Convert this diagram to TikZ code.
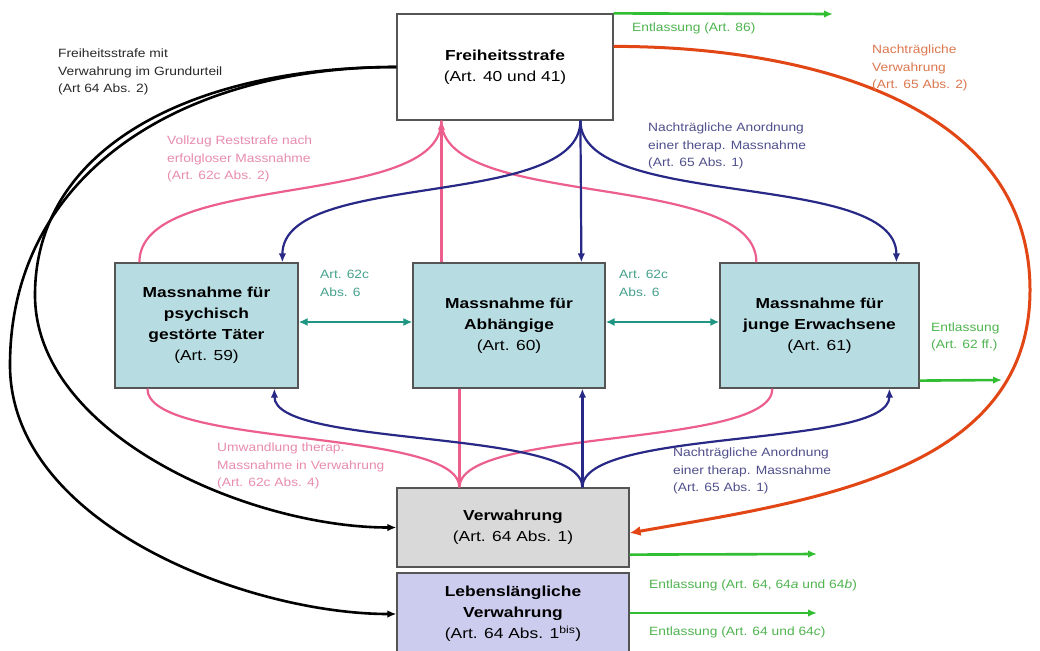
\documentclass[tikz,border=0pt]{standalone}
\usepackage{fontspec}
\setmainfont{Liberation Sans}
\newfontfamily\boxfont{Liberation Sans}[FakeStretch=1.2]
\newfontfamily\labfont{Liberation Sans}[FakeStretch=1.15]
\usetikzlibrary{arrows.meta}
\definecolor{boxline}{RGB}{85,85,85}
\definecolor{cyanfill}{RGB}{183,221,226}
\definecolor{grayfill}{RGB}{217,217,217}
\definecolor{lavfill}{RGB}{204,204,238}
\definecolor{pinkline}{RGB}{236,95,140}
\definecolor{pinktext}{RGB}{232,140,175}
\definecolor{navyline}{RGB}{40,40,135}
\definecolor{navytext}{RGB}{80,80,140}
\definecolor{tealline}{RGB}{30,150,130}
\definecolor{tealtext}{RGB}{70,160,140}
\definecolor{greenline}{RGB}{50,190,50}
\definecolor{greentext}{RGB}{80,180,80}
\definecolor{redline}{RGB}{225,70,20}
\definecolor{redtext}{RGB}{220,120,80}
\definecolor{blacktext}{RGB}{40,40,40}
\tikzset{
  box/.style={draw=boxline, line width=1.2pt, inner sep=0pt, align=center,
    font=\boxfont\fontsize{14.5}{21}\selectfont},
  lab/.style={anchor=west, inner sep=0pt, align=left,
    font=\labfont\fontsize{12}{17.5}\selectfont},
  tip/.style={-{Latex[length=9pt,width=7.5pt]}},
  pinkarr/.style={draw=pinkline, line width=2.2pt},
  navyarr/.style={draw=navyline, line width=2.2pt},
  greenarr/.style={draw=greenline, line width=2.6pt, tip},
  tealarr/.style={draw=tealline, line width=2.4pt, {Latex[length=9pt,width=8pt]}-{Latex[length=9pt,width=8pt]}},
  blackarr/.style={draw=black, line width=2.6pt, tip},
  redarr/.style={draw=redline, line width=3pt, -{Latex[length=11pt,width=10pt]}}
}
\begin{document}
\begin{tikzpicture}[x=1pt,y=1pt]
\fill[white] (0,0) rectangle (1040,-650);
\useasboundingbox (0,0) rectangle (1040,-650);

% boxes
\node[box, fill=white, minimum width=216pt, minimum height=106pt] (fs) at (505,-67)
  {\textbf{Freiheitsstrafe}\\(Art. 40 und 41)};
\node[box, fill=cyanfill, minimum width=183pt, minimum height=125pt] (m59) at (206.5,-325.5)
  {\textbf{Massnahme für}\\\textbf{psychisch}\\\textbf{gestörte Täter}\\(Art. 59)};
\node[box, fill=cyanfill, minimum width=192pt, minimum height=125pt] (m60) at (509,-325.5)
  {\textbf{Massnahme für}\\\textbf{Abhängige}\\(Art. 60)};
\node[box, fill=cyanfill, minimum width=199pt, minimum height=125pt] (m61) at (819.5,-325.5)
  {\textbf{Massnahme für}\\\textbf{junge Erwachsene}\\(Art. 61)};
\node[box, fill=grayfill, minimum width=232pt, minimum height=79pt] (vw) at (513,-527.5)
  {\textbf{Verwahrung}\\(Art. 64 Abs. 1)};
\node[box, fill=lavfill, minimum width=232pt, minimum height=82pt] (lv) at (513,-614)
  {\textbf{Lebenslängliche}\\\textbf{Verwahrung}\\(Art. 64 Abs. 1\textsuperscript{bis})};

% helper coordinates
\coordinate (g1) at (833,-14);
\coordinate (g2) at (1002,-380);
\coordinate (g3) at (817,-554);
\coordinate (g4) at (817,-613);
\coordinate (redR) at (1030,-290);
\coordinate (bl1) at (35,-295);
\coordinate (bl2) at (10,-365);

% pink upward (Vollzug Reststrafe)
\path[pinkarr] ([xshift=25pt]m59.north west) .. controls +(0,93) and +(0,-90) .. ([xshift=45pt]fs.south west);
\path[pinkarr] ([xshift=37pt]m61.north west) .. controls +(0,93) and +(0,-90) .. ([xshift=45pt]fs.south west);
\path[pinkarr, tip] ([xshift=29pt]m60.north west) -- ([xshift=45pt]fs.south west);

% navy downward
\path[navyarr, tip] ([xshift=184pt]fs.south west) .. controls +(0,-90) and +(0,93) .. ([xshift=168pt]m59.north west);
\path[navyarr, tip] ([xshift=184pt]fs.south west) .. controls +(0,-90) and +(0,93) .. ([xshift=177pt]m61.north west);
\path[navyarr, tip] ([xshift=184pt]fs.south west) -- ([xshift=169pt]m60.north west);

% pink downward (Umwandlung)
\path[pinkarr] ([xshift=33pt]m59.south west) .. controls +(0,-60) and +(0,60) .. ([xshift=63pt]vw.north west);
\path[pinkarr] ([xshift=53pt]m61.south west) .. controls +(0,-60) and +(0,60) .. ([xshift=63pt]vw.north west);
\path[pinkarr, tip] ([xshift=47pt]m60.south west) -- ([xshift=63pt]vw.north west);

% navy upward
\path[navyarr, tip] ([xshift=186pt]vw.north west) .. controls +(0,60) and +(0,-60) .. ([xshift=160pt]m59.south west);
\path[navyarr, tip] ([xshift=186pt]vw.north west) .. controls +(0,60) and +(0,-60) .. ([xshift=170pt]m61.south west);
\path[navyarr, tip] ([xshift=186pt]vw.north west) -- ([xshift=170pt]m60.south west);

% teal double arrows
\path[tealarr] ([yshift=3.5pt]m59.east) -- ([yshift=3.5pt]m60.west);
\path[tealarr] ([yshift=3.5pt]m60.east) -- ([yshift=3.5pt]m61.west);

% green releases
\path[greenarr] (fs.north east) -- (g1);
\path[greenarr] ([yshift=8pt]m61.south east) -- (g2);
\path[greenarr] ([yshift=13pt]vw.south east) -- (g3);
\path[greenarr] ([yshift=1pt]lv.east) -- (g4);

% red
\path[redarr] ([yshift=-33pt]fs.north east) to[out=0,in=90] (redR) to[out=-90,in=10] ([yshift=-5.5pt]vw.east);

% black
\path[blackarr] (fs.west) .. controls +(-200,0) and +(0,150) .. (bl1) .. controls +(0,-140) and +(-147,0) .. (vw.west);
\path[blackarr] (fs.west) .. controls +(-217,0) and +(0,190) .. (bl2) .. controls +(0,-160) and +(-147,0) .. (lv.west);

% labels
\node[lab, text=blacktext] (lblack) at (58,-72) {Freiheitsstrafe mit\\Verwahrung im Grundurteil\\(Art 64 Abs. 2)};
\node[lab, text=pinktext] (lpink1) at (167,-159) {Vollzug Reststrafe nach\\erfolgloser Massnahme\\(Art. 62c Abs. 2)};
\node[lab, text=navytext] (lnavy1) at (648,-146) {Nachträgliche Anordnung\\einer therap. Massnahme\\(Art. 65 Abs. 1)};
\node[lab, text=greentext] (lg1) at (632,-28) {Entlassung (Art. 86)};
\node[lab, text=redtext] (lred) at (872,-68) {Nachträgliche\\Verwahrung\\(Art. 65 Abs. 2)};
\node[lab, text=tealtext] (lt1) at (320,-283.5) {Art. 62c\\Abs. 6};
\node[lab, text=tealtext] (lt2) at (619,-283.5) {Art. 62c\\Abs. 6};
\node[lab, text=greentext] (lg2) at (931,-337) {Entlassung\\(Art. 62 ff.)};
\node[lab, text=pinktext] (lpink2) at (217,-466) {Umwandlung therap.\\Massnahme in Verwahrung\\(Art. 62c Abs. 4)};
\node[lab, text=navytext] (lnavy2) at (673,-471) {Nachträgliche Anordnung\\einer therap. Massnahme\\(Art. 65 Abs. 1)};
\node[lab, text=greentext] (lg3) at (649,-585) {Entlassung (Art. 64, 64\textit{a} und 64\textit{b})};
\node[lab, text=greentext] (lg4) at (649,-632) {Entlassung (Art. 64 und 64\textit{c})};
\end{tikzpicture}
\end{document}
